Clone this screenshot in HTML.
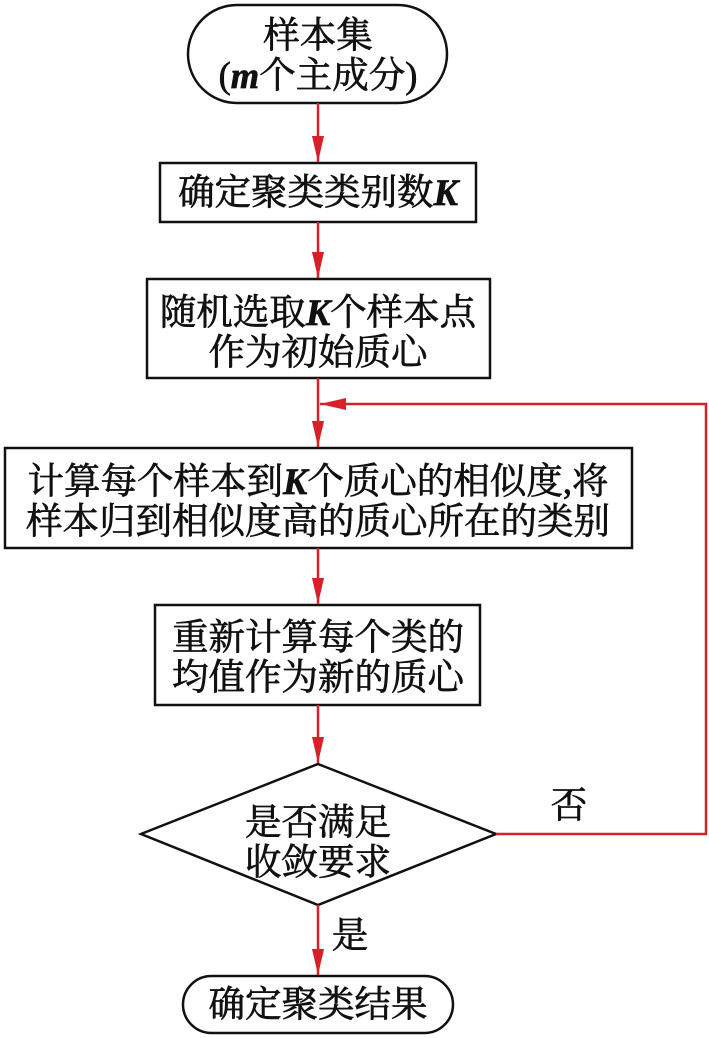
<!DOCTYPE html>
<html><head><meta charset="utf-8"><style>
html,body{margin:0;padding:0;background:#fff;}
svg{display:block}
text{font-family:"Liberation Serif","Noto Serif CJK SC",serif;font-size:36.5px;font-weight:normal;fill:#111;stroke:#111;stroke-width:0.7px;text-anchor:middle;dominant-baseline:central}
</style></head><body>
<svg width="709" height="1038" viewBox="0 0 709 1038" xmlns="http://www.w3.org/2000/svg">
<defs>
<marker id="a" markerWidth="26" markerHeight="12" refX="26" refY="6" orient="auto" markerUnits="userSpaceOnUse" viewBox="0 0 26 12"><path d="M0,0 L26,6 L0,12 Z" fill="#d7202a"/></marker>
</defs>
<g fill="none" stroke="#111" stroke-width="2.5">
<rect x="188" y="5" width="259" height="98" rx="49"/>
<rect x="160" y="163" width="316" height="59"/>
<rect x="147" y="279" width="343" height="99"/>
<rect x="5" y="448" width="627" height="100"/>
<rect x="155" y="605" width="325" height="100"/>
<polygon points="318,764 496,834 318,905 141,834"/>
<rect x="183" y="976" width="270" height="57" rx="28.5"/>
</g>
<g stroke="#d7202a" stroke-width="2.5" fill="none">
<line x1="318" y1="103" x2="318" y2="162" marker-end="url(#a)"/>
<line x1="318" y1="222" x2="318" y2="278" marker-end="url(#a)"/>
<line x1="318" y1="378" x2="318" y2="447" marker-end="url(#a)"/>
<line x1="318" y1="548" x2="318" y2="604" marker-end="url(#a)"/>
<line x1="318" y1="705" x2="318" y2="763" marker-end="url(#a)"/>
<line x1="318" y1="905" x2="318" y2="975" marker-end="url(#a)"/>
<polyline points="496,834 706,834 706,404 320,404" marker-end="url(#a)"/>
</g>
<text x="318" y="35">样本集</text>
<text x="318" y="75">(<tspan font-style="italic" font-weight="bold">m</tspan>个主成分)</text>
<text x="318" y="192">确定聚类类别数<tspan font-style="italic" font-weight="bold">K</tspan></text>
<text x="318" y="312">随机选取<tspan font-style="italic" font-weight="bold">K</tspan>个样本点</text>
<text x="318" y="352">作为初始质心</text>
<text x="318" y="481">计算每个样本到<tspan font-style="italic" font-weight="bold">K</tspan>个质心的相似度,将</text>
<text x="318" y="521">样本归到相似度高的质心所在的类别</text>
<text x="318" y="637">重新计算每个类的</text>
<text x="318" y="677">均值作为新的质心</text>
<text x="318" y="822">是否满足</text>
<text x="318" y="862">收敛要求</text>
<text x="569" y="805">否</text>
<text x="350" y="935">是</text>
<text x="318" y="1004">确定聚类结果</text>
</svg>
</body></html>
